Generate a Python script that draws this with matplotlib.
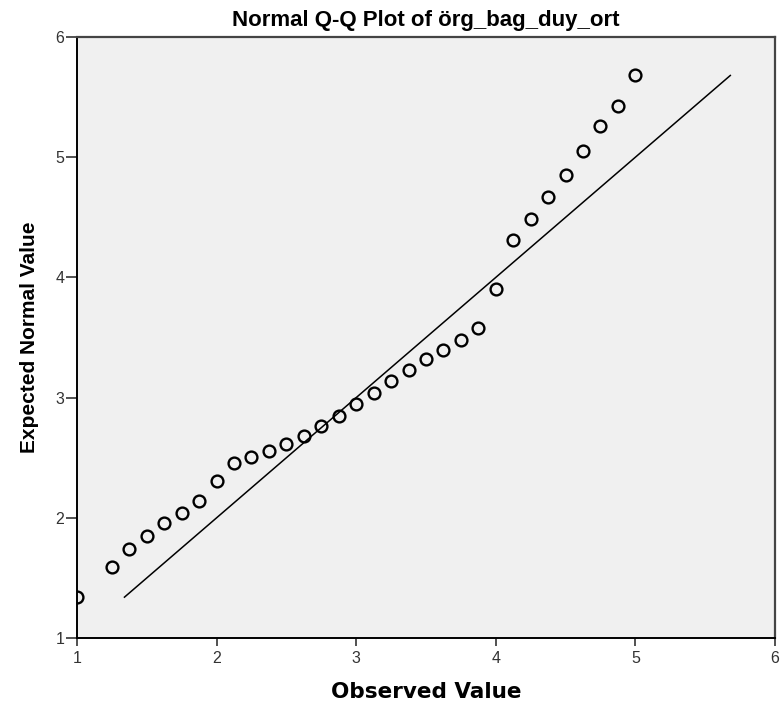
"""Normal Q-Q plot of örg_bag_duy_ort, SPSS style."""

import matplotlib

matplotlib.use("Agg")
import matplotlib.pyplot as plt

observed = [1.0, 1.25, 1.375, 1.5, 1.625, 1.75, 1.875, 2.0, 2.125, 2.25,
            2.375, 2.5, 2.625, 2.75, 2.875, 3.0, 3.125, 3.25, 3.375, 3.5,
            3.625, 3.75, 3.875, 4.0, 4.125, 4.25, 4.375, 4.5, 4.625, 4.75,
            4.875, 5.0]
expected = [1.34, 1.59, 1.74, 1.85, 1.96, 2.04, 2.14, 2.31, 2.46, 2.51,
            2.56, 2.61, 2.68, 2.76, 2.85, 2.95, 3.04, 3.14, 3.23, 3.32,
            3.40, 3.48, 3.58, 3.90, 4.31, 4.49, 4.67, 4.85, 5.05, 5.26,
            5.43, 5.68]

# Reference line y = x over the fitted range
ref_line = [1.34, 5.68]

ticks = [1, 2, 3, 4, 5, 6]

fig = plt.figure(figsize=(7.84, 7.14), dpi=100)
ax = fig.add_axes([0.0982, 0.1064, 0.8903, 0.8418])
ax.set_facecolor("#f0f0f0")

ax.plot(ref_line, ref_line, color="black", linewidth=1.1)
ax.plot(observed, expected, linestyle="none", marker="o", markersize=8.5,
        markerfacecolor="none", markeredgecolor="black", markeredgewidth=1.7,
        clip_on=True)

ax.set_xlim(1, 6)
ax.set_ylim(1, 6)
ax.set_xticks(ticks)
ax.set_yticks(ticks)
ax.tick_params(direction="out", width=1.2, labelsize=11.5,
               colors="#333333")
ax.tick_params(axis="x", length=6, pad=3)
ax.tick_params(axis="y", length=8, pad=1)
for lab in ax.get_xticklabels() + ax.get_yticklabels():
    lab.set_family("Liberation Sans")

for side in ["left", "bottom"]:
    ax.spines[side].set_color("black")
    ax.spines[side].set_linewidth(1.4)
for side in ["top", "right"]:
    ax.spines[side].set_color("#444444")
    ax.spines[side].set_linewidth(1.6)

ax.set_title("Normal Q-Q Plot of örg_bag_duy_ort", family="Liberation Sans",
             fontsize=16, fontweight="bold", pad=8)
ax.set_xlabel("Observed Value", family="DejaVu Sans", fontsize=15.5,
              fontweight="bold", labelpad=12)
ax.set_ylabel("Expected Normal Value", family="Liberation Sans", fontsize=15,
              fontweight="bold", labelpad=12)

fig.savefig("out.png", dpi=100)
